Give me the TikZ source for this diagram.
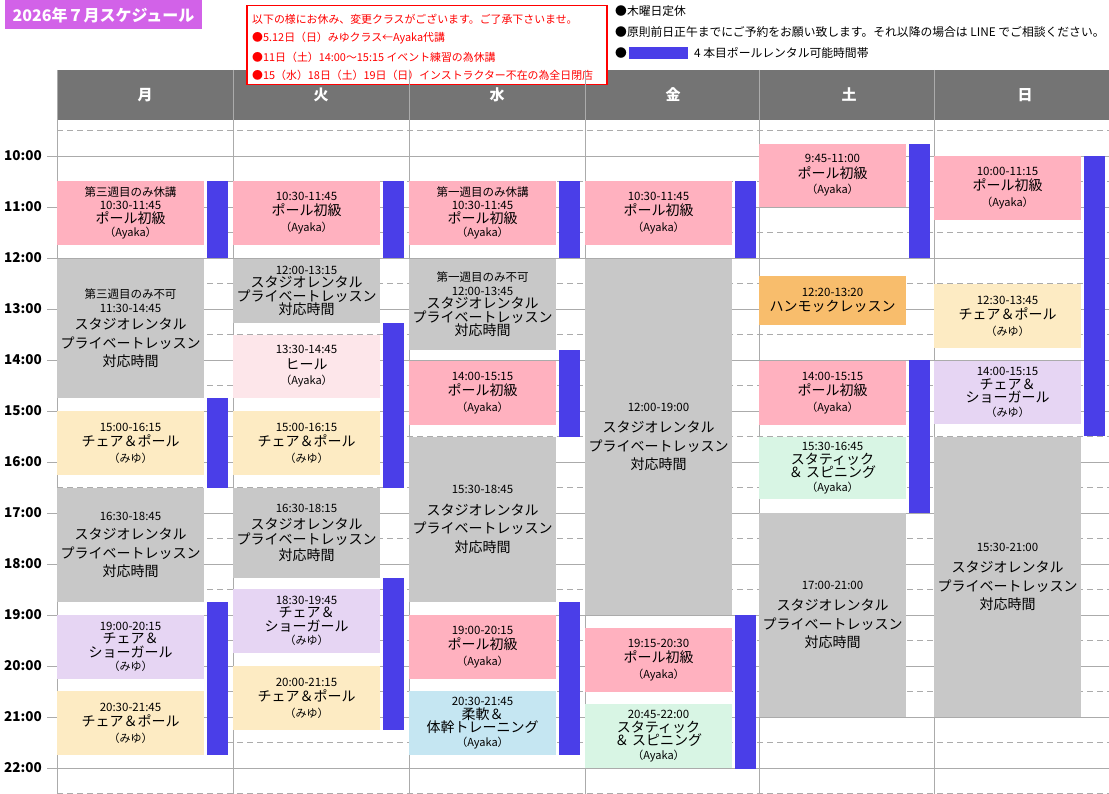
\documentclass[tikz,border=0pt]{standalone}
\usepackage{fontspec}
\setmainfont{Noto Sans CJK JP}
\definecolor{cpink}{HTML}{FFB1BF}
\definecolor{cgray}{HTML}{C8C8C8}
\definecolor{cyel}{HTML}{FDEBC3}
\definecolor{cpur}{HTML}{E6D5F3}
\definecolor{clblue}{HTML}{C5E6F2}
\definecolor{cmint}{HTML}{D8F5E4}
\definecolor{clpink}{HTML}{FDE6EA}
\definecolor{corange}{HTML}{F8BD6C}
\definecolor{cbar}{HTML}{4A3EE8}
\definecolor{chead}{HTML}{747474}
\definecolor{cgrid}{HTML}{ABABAB}
\definecolor{ctitle}{HTML}{D262E8}
\newcommand\st{\fontsize{11.5}{13.5}\selectfont}
\newcommand\bt{\fontsize{14}{16.5}\selectfont}
\newcommand\btt{\fontsize{14}{15}\selectfont}
\newcommand\pa{\fontsize{11}{13}\selectfont（Ayaka）}
\newcommand\pmy{\fontsize{11}{13}\selectfont（みゆ）}
\newcommand\rent{\bt スタジオレンタル\\[5pt]\bt プライベートレッスン\\[5pt]\bt 対応時間}
\newcommand\blk[6]{\pgfmathsetmacro\hh{#4-#3}\pgfmathsetmacro\yc{-(#3+#4)/2}%
  \node[box,fill=#5,minimum height=\hh pt] (#1) at (#2+73.5,\yc) {#6};}
\newcommand\rbar[4]{\pgfmathsetmacro\hh{#4-#3}\pgfmathsetmacro\yc{-(#3+#4)/2}%
  \node[barst,minimum height=\hh pt] (#1) at (#2+160.5,\yc) {};}
\begin{document}
\begin{tikzpicture}[x=1pt,y=1pt,
  box/.style={draw=none,minimum width=147pt,inner sep=0pt,align=center,font=\st},
  barst/.style={fill=cbar,minimum width=21pt,inner sep=0pt},
  grid/.style={cgrid,line width=0.8pt},
  hgrid/.style={cgrid,line width=1pt,dash pattern=on 6pt off 4pt},
  tlabel/.style={anchor=east,font=\fontsize{13.5}{15}\selectfont\bfseries,inner sep=0pt},
  head/.style={text=white,font=\fontsize{15}{17}\selectfont\bfseries},
  note/.style={anchor=west,font=\fontsize{11.8}{13}\selectfont,inner sep=0pt},
  rnote/.style={anchor=west,text=red,font=\fontsize{10.9}{13}\selectfont,inner sep=0pt}]
\useasboundingbox (0,0) rectangle (1109,-794);
% title
\node[fill=ctitle,minimum width=197pt,minimum height=29pt,inner sep=0pt,text=white,font=\fontsize{16}{18}\selectfont\bfseries] (title) at (103.5,-15) {2026年７月スケジュール};
% right notes
\node[note] (r1) at (615,-11) {●木曜日定休};
\node[note] (r2) at (615,-32) {●原則前日正午までにご予約をお願い致します。それ以降の場合は LINE でご相談ください。};
\node[note] (r3) at (615,-53) {●};
\node[fill=cbar,minimum width=59pt,minimum height=12pt,inner sep=0pt] (leg) at (658.5,-53) {};
\node[note] (r4) at (694,-53) {4 本目ポールレンタル可能時間帯};
% header
\fill[chead] (57,-70) rectangle (1109,-120);
\foreach \d [count=\i from 0] in {月,火,水,金,土,日}
  \node[head] (h\i) at (57+176*\i+88,-95) {\d};
% red notice
\node[draw=red,fill=white,line width=1.5pt,minimum width=360pt,minimum height=79pt,inner sep=0pt] (notice) at (427,-45) {};
\node[rnote] (n1) at (252,-19) {以下の様にお休み、変更クラスがございます。ご了承下さいませ。};
\node[rnote] (n2) at (252,-38) {●5.12日（日）みゆクラス←Ayaka代講};
\node[rnote] (n3) at (252,-57) {●11日（土）14:00〜15:15 イベント練習の為休講};
\node[rnote] (n4) at (252,-75) {●15（水）18日（土）19日（日）インストラクター不在の為全日閉店};
% grid
\foreach \k in {0,...,12} \draw[grid] (47,-156-51*\k) -- (1109,-156-51*\k);
\foreach \k in {-1,...,12} \draw[hgrid] (57,-181.5-51*\k) -- (1109,-181.5-51*\k);
\foreach \x in {57,233,409,585,759,934} \draw[grid] (\x,-70) -- (\x,-794);
\foreach \t [count=\k from 0] in {10,...,22}
  \node[tlabel] (t\t) at (42,-156-51*\k) {\t:00};
% Monday
\blk{m1}{57}{181}{245}{cpink}{第三週目のみ休講\\10:30-11:45\\\bt ポール初級\\\pa}
\rbar{mb1}{57}{181}{258}
\blk{m2}{57}{259}{398}{cgray}{第三週目のみ不可\\11:30-14:45\\[4pt]\rent}
\blk{m3}{57}{411}{475}{cyel}{15:00-16:15\\[2pt]\bt チェア＆ポール\\[2pt]\pmy}
\rbar{mb2}{57}{398}{488}
\blk{m4}{57}{488}{602}{cgray}{16:30-18:45\\[6pt]\rent}
\blk{m5}{57}{615}{679}{cpur}{19:00-20:15\\\btt チェア＆\\\btt ショーガール\\\pmy}
\blk{m6}{57}{691}{755}{cyel}{20:30-21:45\\[2pt]\bt チェア＆ポール\\[2pt]\pmy}
\rbar{mb3}{57}{602}{755}
% Tuesday
\blk{tu1}{233}{181}{245}{cpink}{10:30-11:45\\[2pt]\bt ポール初級\\[2pt]\pa}
\rbar{tb1}{233}{181}{258}
\blk{tu2}{233}{259}{323}{cgray}{12:00-13:15\\\btt スタジオレンタル\\\btt プライベートレッスン\\\btt 対応時間}
\blk{tu3}{233}{335}{398}{clpink}{13:30-14:45\\[2pt]\bt ヒール\\[2pt]\pa}
\rbar{tb2}{233}{323}{488}
\blk{tu4}{233}{411}{475}{cyel}{15:00-16:15\\[2pt]\bt チェア＆ポール\\[2pt]\pmy}
\blk{tu5}{233}{488}{578}{cgray}{16:30-18:15\\[3pt]\bt スタジオレンタル\\[2pt]\bt プライベートレッスン\\[2pt]\bt 対応時間}
\blk{tu6}{233}{589}{653}{cpur}{18:30-19:45\\\btt チェア＆\\\btt ショーガール\\\pmy}
\blk{tu7}{233}{666}{730}{cyel}{20:00-21:15\\[2pt]\bt チェア＆ポール\\[2pt]\pmy}
\rbar{tb3}{233}{578}{730}
% Wednesday
\blk{w1}{409}{181}{245}{cpink}{第一週目のみ休講\\10:30-11:45\\\bt ポール初級\\\pa}
\rbar{wb1}{409}{181}{258}
\blk{w2}{409}{259}{350}{cgray}{第一週目のみ不可\\12:00-13:45\\\bt スタジオレンタル\\\bt プライベートレッスン\\\bt 対応時間}
\blk{w3}{409}{361}{425}{cpink}{14:00-15:15\\[2pt]\bt ポール初級\\[2pt]\pa}
\rbar{wb2}{409}{350}{437}
\blk{w4}{409}{437}{602}{cgray}{15:30-18:45\\[8pt]\rent}
\blk{w5}{409}{615}{679}{cpink}{19:00-20:15\\[2pt]\bt ポール初級\\[2pt]\pa}
\blk{w6}{409}{691}{755}{clblue}{20:30-21:45\\\btt 柔軟＆\\\btt 体幹トレーニング\\\pa}
\rbar{wb3}{409}{602}{755}
% Friday
\blk{f1}{585}{181}{245}{cpink}{10:30-11:45\\[2pt]\bt ポール初級\\[2pt]\pa}
\rbar{fb1}{585}{181}{258}
\blk{f2}{585}{259}{615}{cgray}{12:00-19:00\\[8pt]\rent}
\blk{f3}{585}{628}{692}{cpink}{19:15-20:30\\[2pt]\bt ポール初級\\[2pt]\pa}
\blk{f4}{585}{704}{768}{cmint}{20:45-22:00\\\btt スタティック\\\btt ＆ スピニング\\\pa}
\rbar{fb2}{585}{615}{769}
% Saturday
\blk{s1}{759}{144}{207}{cpink}{9:45-11:00\\[2pt]\bt ポール初級\\[2pt]\pa}
\rbar{sb1}{759}{144}{258}
\blk{s2}{759}{276}{325}{corange}{12:20-13:20\\[2pt]\bt ハンモックレッスン}
\blk{s3}{759}{361}{425}{cpink}{14:00-15:15\\[2pt]\bt ポール初級\\[2pt]\pa}
\blk{s4}{759}{437}{499}{cmint}{15:30-16:45\\\btt スタティック\\\btt ＆ スピニング\\\pa}
\rbar{sb2}{759}{360}{513}
\blk{s5}{759}{513}{717}{cgray}{17:00-21:00\\[8pt]\rent}
% Sunday
\blk{u1}{934}{156}{220}{cpink}{10:00-11:15\\[2pt]\bt ポール初級\\[2pt]\pa}
\rbar{ub1}{934}{156}{436}
\blk{u2}{934}{284}{348}{cyel}{12:30-13:45\\[2pt]\bt チェア＆ポール\\[2pt]\pmy}
\blk{u3}{934}{361}{424}{cpur}{14:00-15:15\\\btt チェア＆\\\btt ショーガール\\\pmy}
\blk{u4}{934}{437}{717}{cgray}{15:30-21:00\\[8pt]\rent}
\end{tikzpicture}
\end{document}
